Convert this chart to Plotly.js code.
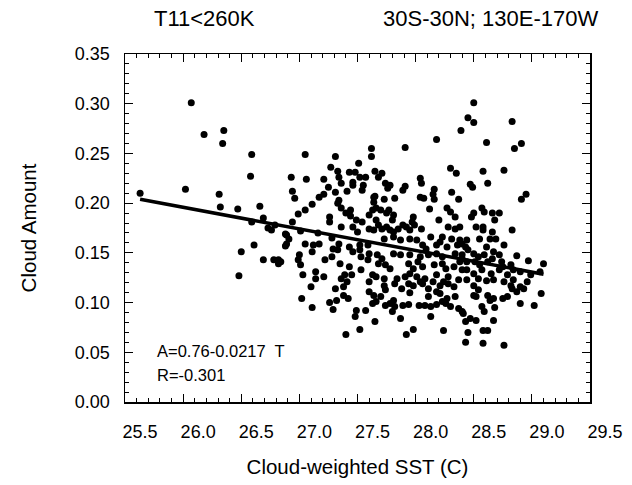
<!DOCTYPE html>
<html>
<head>
<meta charset="utf-8">
<script src="https://cdn.plot.ly/plotly-3.0.1.min.js"></script>
<style>html,body{margin:0;padding:0;background:#fff;}#chart{width:632px;height:485px;}</style>
</head>
<body>
<div id="chart"></div>
<script>
// Cloud-weighted SST (C)
const sstValues = [
26.07,26.18,26.35,26.34,26.59,26.58,25.63,26.02,26.31,26.32,26.47,26.66,26.69,26.59,26.73,26.76,26.79,26.88,26.61,26.88,26.50,26.69,26.78,26.82,26.84,26.82,26.48,
27.05,27.31,27.62,27.62,27.51,27.27,27.33,27.43,27.48,27.65,26.93,27.06,27.21,27.34,27.52,27.57,27.36,27.46,27.46,27.55,27.25,26.94,27.31,27.41,27.54,27.21,27.17,26.96,27.64,27.34,
28.39,28.18,27.91,28.30,28.35,27.71,27.68,28.04,28.05,27.74,27.78,27.76,27.91,27.89,28.16,28.31,28.15,27.65,27.73,27.82,28.04,28.07,28.16,28.37,
28.50,28.45,28.50,28.83,28.61,28.91,28.85,28.58,28.76,28.47,28.49,28.62,28.95,28.91,
27.33,27.36,27.11,27.05,26.99,27.44,27.44,27.26,27.26,27.40,27.49,27.54,27.60,27.63,27.64,26.94,27.36,27.46,27.50,27.60,26.89,26.91,26.89,27.01,27.16,27.28,27.34,27.05,27.12,27.17,27.29,27.33,27.43,27.52,27.59,27.52,27.11,27.00,27.28,27.46,27.53,27.60,27.22,26.99,27.01,27.35,27.59,27.43,27.53,27.14,27.21,27.03,27.39,27.45,27.36,27.63,27.14,27.60,
27.66,27.70,27.75,27.77,28.12,28.27,28.30,28.34,28.20,27.98,27.97,27.99,27.81,27.80,27.66,27.68,27.71,27.64,27.75,27.78,27.81,27.85,27.89,27.92,27.95,28.05,28.28,28.34,28.38,28.13,28.23,28.21,28.31,28.38,28.36,27.73,27.81,27.87,27.95,28.01,28.06,28.09,28.18,28.27,27.67,27.71,27.81,27.87,27.95,28.04,28.11,28.18,28.23,28.34,28.40,27.68,27.74,27.78,27.94,27.98,27.95,28.02,28.06,28.16,28.23,28.26,28.33,28.38,28.40,27.66,27.73,27.84,27.91,28.01,28.04,28.08,28.18,28.28,28.24,28.37,
28.57,28.59,28.50,28.48,28.66,28.72,28.68,28.52,28.58,28.58,28.83,28.66,28.64,28.69,28.55,28.44,28.40,28.43,28.45,28.61,28.76,28.50,28.54,28.59,28.67,28.72,28.87,28.97,29.10,28.40,28.44,28.51,28.55,28.62,28.66,28.74,28.75,28.82,28.84,28.90,28.44,28.50,28.57,28.65,28.72,28.79,28.44,28.54,28.67,28.76,28.84,28.99,29.07,
27.10,27.31,27.41,27.38,27.02,27.11,27.26,27.32,27.29,27.38,27.42,27.60,27.64,27.63,27.49,27.48,27.57,27.65,27.52,27.40,
27.73,27.82,27.88,27.94,27.98,27.70,27.74,28.06,28.11,28.15,28.21,28.28,28.33,27.95,28.11,28.18,28.21,28.34,27.66,27.74,27.78,27.81,27.82,27.89,27.94,28.03,28.08,28.13,28.18,28.23,28.26,28.30,28.27,27.80,28.37,28.40,28.13,27.87,27.98,27.92,28.24,
28.50,28.61,28.82,28.83,28.90,28.96,28.93,28.87,28.54,28.50,28.52,28.62,28.64,28.67,28.79,28.75,29.08,28.90,29.02,28.57,28.59,28.68,28.41,28.43,28.47,28.52,28.67,28.45,28.58,28.62,28.43,28.58,28.76
];
// Cloud Amount
const cloudAmount = [
0.301,0.269,0.273,0.260,0.249,0.227,0.210,0.214,0.209,0.196,0.194,0.197,0.185,0.181,0.175,0.173,0.178,0.169,0.158,0.157,0.151,0.143,0.143,0.143,0.141,0.139,0.127,
0.249,0.247,0.255,0.247,0.240,0.236,0.232,0.231,0.231,0.232,0.226,0.224,0.224,0.226,0.226,0.226,0.220,0.221,0.218,0.218,0.216,0.212,0.211,0.212,0.213,0.209,0.206,0.205,0.206,0.203,
0.273,0.264,0.256,0.235,0.230,0.230,0.226,0.225,0.220,0.220,0.218,0.215,0.217,0.213,0.214,0.211,0.209,0.207,0.204,0.205,0.206,0.205,0.204,0.204,
0.301,0.286,0.281,0.282,0.261,0.260,0.255,0.232,0.233,0.219,0.216,0.220,0.209,0.204,
0.200,0.195,0.199,0.193,0.189,0.193,0.187,0.186,0.181,0.190,0.183,0.181,0.188,0.193,0.201,0.181,0.176,0.176,0.171,0.174,0.168,0.164,0.159,0.172,0.170,0.165,0.159,0.159,0.158,0.159,0.154,0.153,0.156,0.158,0.158,0.153,0.151,0.148,0.146,0.151,0.146,0.149,0.143,0.143,0.138,0.139,0.143,0.136,0.133,0.131,0.126,0.128,0.128,0.128,0.124,0.128,0.124,0.121,
0.195,0.193,0.190,0.193,0.194,0.195,0.191,0.186,0.183,0.186,0.181,0.178,0.188,0.183,0.183,0.178,0.174,0.173,0.176,0.173,0.171,0.174,0.178,0.176,0.173,0.174,0.176,0.174,0.176,0.166,0.166,0.161,0.164,0.163,0.158,0.164,0.166,0.163,0.164,0.163,0.158,0.154,0.158,0.156,0.148,0.144,0.149,0.148,0.148,0.146,0.148,0.149,0.146,0.149,0.148,0.139,0.138,0.134,0.139,0.134,0.129,0.141,0.136,0.138,0.139,0.134,0.136,0.141,0.133,0.126,0.124,0.124,0.126,0.126,0.121,0.124,0.128,0.126,0.121,0.123,
0.195,0.191,0.190,0.186,0.190,0.190,0.183,0.176,0.176,0.173,0.173,0.171,0.164,0.164,0.164,0.163,0.159,0.156,0.153,0.156,0.158,0.149,0.146,0.148,0.151,0.148,0.147,0.142,0.139,0.144,0.141,0.141,0.138,0.141,0.144,0.141,0.136,0.138,0.133,0.131,0.133,0.129,0.133,0.129,0.133,0.128,0.123,0.124,0.123,0.121,0.123,0.128,0.131,
0.116,0.114,0.121,0.116,0.104,0.095,0.100,0.102,0.093,0.107,0.104,0.111,0.107,0.099,0.092,0.086,0.092,0.081,0.073,0.068,
0.117,0.119,0.114,0.119,0.117,0.106,0.113,0.119,0.114,0.121,0.117,0.119,0.116,0.110,0.106,0.111,0.109,0.106,0.101,0.097,0.099,0.102,0.096,0.097,0.098,0.097,0.097,0.096,0.098,0.101,0.099,0.096,0.104,0.091,0.094,0.091,0.086,0.084,0.073,0.068,0.072,
0.117,0.122,0.117,0.114,0.116,0.121,0.114,0.111,0.113,0.107,0.106,0.107,0.102,0.104,0.106,0.104,0.109,0.099,0.097,0.096,0.091,0.095,0.089,0.081,0.084,0.082,0.082,0.070,0.072,0.072,0.060,0.059,0.057
];
// Regression line A = 0.76 - 0.0217 T, drawn over the data range
const fitIntercept = 0.76;
const fitSlope = -0.0217;
const fitRange = [25.63, 29.10];
const fitLabel = 'A=0.76-0.0217  T';
const corrLabel = 'R=-0.301';
const titleLeft = 'T11<260K';
const titleRight = '30S-30N; 130E-170W';
const xTitle = 'Cloud-weighted SST (C)';
const yTitle = 'Cloud Amount';

const font = 'Liberation Sans, Arial, Helvetica, sans-serif';
const fitY = fitRange.map(t => fitIntercept + fitSlope * t);

const traces = [
  {x: sstValues, y: cloudAmount, mode: 'markers', type: 'scatter',
   marker: {color: '#000', size: 7}, hoverinfo: 'skip'},
  {x: fitRange, y: fitY, mode: 'lines', type: 'scatter',
   line: {color: '#000', width: 3.5}, hoverinfo: 'skip'}
];

const axisCommon = {
  showgrid: false, zeroline: false, showline: true, linecolor: '#000', linewidth: 1.5,
  mirror: 'allticks', ticks: 'inside', ticklen: 8, tickwidth: 1.2, tickcolor: '#000',
  tickfont: {family: font, size: 18, color: '#000'}
};

const layout = {
  width: 632, height: 485,
  margin: {l: 125, r: 42, t: 54, b: 83},
  paper_bgcolor: '#fff', plot_bgcolor: '#fff',
  showlegend: false,
  xaxis: Object.assign({}, axisCommon, {
    range: [25.5, 29.5], tick0: 25.5, dtick: 0.5, tickformat: '.1f',
    ticklabelstandoff: 13, ticklabelshift: 15,
    minor: {dtick: 0.1, ticks: 'inside', ticklen: 4, tickcolor: '#000', tickwidth: 1},
    title: {text: xTitle, font: {family: font, size: 20.5, color: '#000'}, standoff: 18}
  }),
  yaxis: Object.assign({}, axisCommon, {
    range: [0, 0.35], tick0: 0, dtick: 0.05, tickformat: '.2f',
    ticklabelstandoff: 10,
    minor: {dtick: 0.01, ticks: 'inside', ticklen: 4, tickcolor: '#000', tickwidth: 1},
    title: {text: yTitle, font: {family: font, size: 20.5, color: '#000'}, standoff: 32}
  }),
  annotations: [
    {text: titleLeft, xref: 'paper', yref: 'paper', x: 0.172, y: 1.103, xanchor: 'center', yanchor: 'middle',
     showarrow: false, font: {family: font, size: 22, color: '#000'}},
    {text: titleRight, xref: 'paper', yref: 'paper', x: 0.785, y: 1.103, xanchor: 'center', yanchor: 'middle',
     showarrow: false, font: {family: font, size: 22, color: '#000'}},
    {text: fitLabel, xref: 'x', yref: 'y', x: 25.76, y: 0.051, xanchor: 'left', yanchor: 'middle',
     showarrow: false, font: {family: font, size: 16.5, color: '#000'}},
    {text: corrLabel, xref: 'x', yref: 'y', x: 25.76, y: 0.027, xanchor: 'left', yanchor: 'middle',
     showarrow: false, font: {family: font, size: 16.5, color: '#000'}}
  ]
};

Plotly.newPlot('chart', traces, layout, {staticPlot: true, displayModeBar: false});
</script>
</body>
</html>
